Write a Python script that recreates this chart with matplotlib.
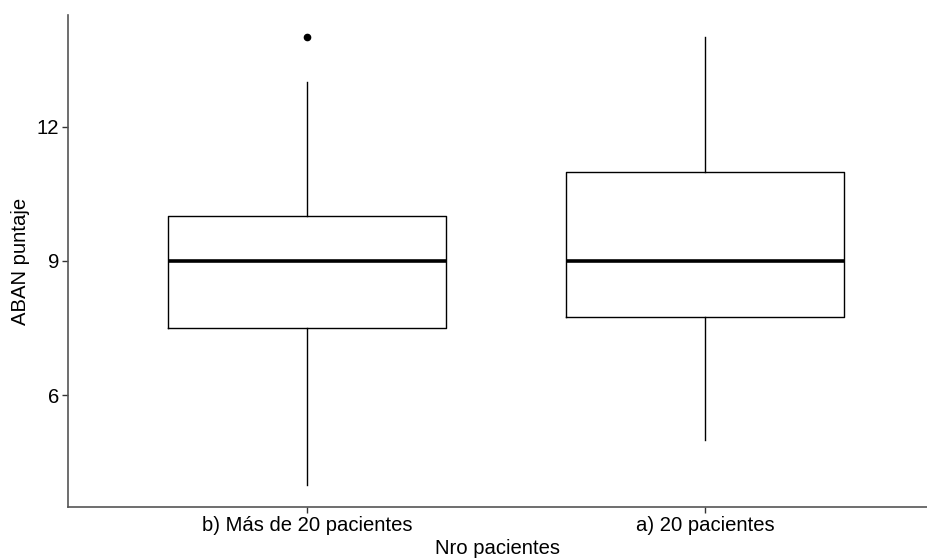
import matplotlib
matplotlib.use("Agg")
import matplotlib.pyplot as plt

plt.rcParams['font.family'] = ['Liberation Sans', 'DejaVu Sans']

categories = ["b) Más de 20 pacientes", "a) 20 pacientes"]
medians = [9, 9]
q1 = [7.5, 7.75]
q3 = [10, 11]
whislo = [4, 5]
whishi = [13, 14]
fliers = [[14], []]
yticks = [6, 9, 12]

stats = []
for i, c in enumerate(categories):
    stats.append(dict(med=medians[i], q1=q1[i], q3=q3[i], whislo=whislo[i],
                      whishi=whishi[i], fliers=fliers[i], label=c))

fig = plt.figure(figsize=(9.28, 5.58), dpi=100)
ax = fig.add_axes([68/928, 51/558, 1 - 68/928, (507-15)/558])

ax.bxp(stats, positions=[1, 2], widths=0.7, showcaps=False,
       boxprops=dict(color='black', linewidth=1.0),
       whiskerprops=dict(color='black', linewidth=1.0),
       medianprops=dict(color='black', linewidth=2.6, solid_capstyle='butt'),
       flierprops=dict(marker='o', markersize=4.5, markerfacecolor='black',
                       markeredgecolor='black'))

ax.set_xlim(0.4, 2.56)
ax.set_ylim(3.5, 14.5)
ax.set_yticks(yticks)
ax.set_yticklabels([str(v) for v in yticks])
ax.set_xticks([1, 2])
ax.set_xticklabels(categories)

for s in ['top', 'right']:
    ax.spines[s].set_visible(False)
for s in ['left', 'bottom']:
    ax.spines[s].set_color('#555555')
    ax.spines[s].set_linewidth(1.2)
ax.tick_params(axis='both', length=4, width=1, color='#333333',
               labelsize=14.6, labelcolor='black', pad=2.5)

ax.set_xlabel("Nro pacientes", fontsize=14.6, labelpad=3)
ax.set_ylabel("ABAN puntaje", fontsize=14.6, labelpad=5)

fig.savefig("out.png", dpi=100)
